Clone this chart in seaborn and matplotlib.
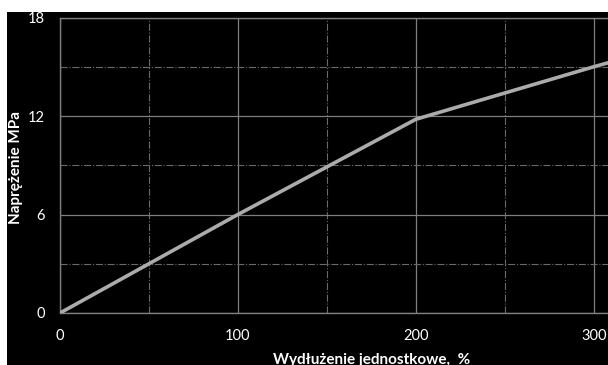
import matplotlib
matplotlib.use("Agg")
import matplotlib.pyplot as plt
import seaborn as sns
import pandas as pd
from matplotlib.patches import Rectangle
from matplotlib.ticker import MultipleLocator

elongation = [0, 100, 200, 300, 310]
stress = [0, 6.0, 11.8, 15.0, 15.3]
x_ticks = [0, 100, 200, 300]
y_ticks = [0, 6, 12, 18]

sns.set_theme(style="dark")
plt.rcParams['font.family'] = ['Lato', 'DejaVu Sans']

df = pd.DataFrame({"x": elongation, "y": stress})

W, H = 608, 365
fig = plt.figure(figsize=(W / 100, H / 100), dpi=100, facecolor="white")
fig.patches.append(Rectangle((7 / W, 0), 1 - 7 / W, 1 - 12 / H,
                             transform=fig.transFigure, facecolor="black",
                             edgecolor="none", zorder=-10))

ax_w = 608 - 60
ax_h = 313 - 17.5
ax = fig.add_axes([60 / W, (H - 313) / H, ax_w / W, ax_h / H])
ax.set_facecolor("black")

sns.lineplot(data=df, x="x", y="y", ax=ax, color="#ababab", linewidth=2.6,
             zorder=5)

ax.set_xlim(0, 308)
ax.set_ylim(0, 18)
ax.set_xticks(x_ticks)
ax.set_yticks(y_ticks)
ax.xaxis.set_minor_locator(MultipleLocator(50))
ax.yaxis.set_minor_locator(MultipleLocator(3))

ax.grid(True, which="major", color="#7f7f7f", linewidth=0.9, linestyle="-")
ax.grid(True, which="minor", color="#6a6a6a", linewidth=0.8, linestyle="-.")
ax.set_axisbelow(True)

for side in ["left", "bottom", "top"]:
    ax.spines[side].set_visible(True)
    ax.spines[side].set_color("#7f7f7f")
    ax.spines[side].set_linewidth(1.0)
ax.spines["right"].set_visible(False)

ax.tick_params(axis="both", which="both", length=0, colors="white",
               labelsize=10.5)
ax.tick_params(axis="x", pad=11.5)
ax.tick_params(axis="y", pad=11)

ax.set_xlabel("Wydłużenie jednostkowe,  %", color="white", fontsize=11,
              fontweight="bold")
ax.set_ylabel("Naprężenie MPa", color="white", fontsize=11,
              fontweight="bold")
ax.xaxis.label.set_verticalalignment("baseline")
ax.xaxis.set_label_coords((372 - 60) / ax_w, -(364 - 313) / ax_h)
ax.yaxis.set_label_coords(-(60 - 23.5) / ax_w, (313 - 167) / ax_h)

fig.savefig("out.png", dpi=100, facecolor=fig.get_facecolor())
